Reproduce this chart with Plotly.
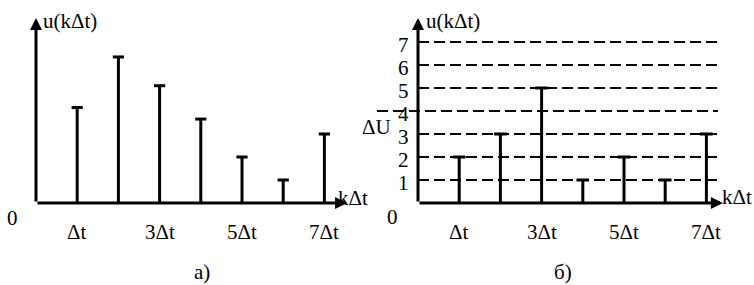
import plotly.graph_objects as go

# ---- data ----
k_steps = [1, 2, 3, 4, 5, 6, 7]
u_analog = [4.15, 6.35, 5.1, 3.65, 2.0, 1.0, 3.0]      # panel a)
u_quant = [2, 3, 5, 1, 2, 1, 3]                        # panel б)
levels = [1, 2, 3, 4, 5, 6, 7]
level_labels = ["1", "2", "3", "4", "5", "6", "7"]
xtick_vals = [1, 3, 5, 7]
xtick_labels = ["Δt", "3Δt", "5Δt", "7Δt"]

W, H = 754, 285
PX = 41.2   # px per x unit
PY = 23.0   # px per y unit
BASE = 203  # baseline pixel row
FONT = dict(family="Liberation Serif", size=21, color="black")

fig = go.Figure()

def stems(xa, ya, vals, capsize):
    xs, ys = [], []
    for k, v in zip(k_steps, vals):
        xs += [k, k, None]
        ys += [0, v, None]
    fig.add_trace(go.Scatter(x=xs, y=ys, mode="lines", xaxis=xa, yaxis=ya,
                             line=dict(color="black", width=3), hoverinfo="skip"))
    fig.add_trace(go.Scatter(x=k_steps, y=vals, mode="markers", xaxis=xa, yaxis=ya,
                             marker=dict(symbol="line-ew", size=capsize,
                                         line=dict(color="black", width=3)),
                             hoverinfo="skip"))

# dashed quantization levels (panel б)
for lv in levels:
    x0 = -0.995 if lv == 4 else 0
    fig.add_trace(go.Scatter(x=[x0, 7.28], y=[lv, lv], mode="lines", xaxis="x2", yaxis="y2",
                             line=dict(color="black", width=2, dash="11px,5px"),
                             hoverinfo="skip"))

stems("x", "y", u_analog, 8)
stems("x2", "y2", u_quant, 9)

ann = []
def arrow(xr, yr, x, y):
    ann.append(dict(x=x, y=y, ax=0, ay=0, xref=xr, yref=yr, axref=xr, ayref=yr,
                    text="", showarrow=True, arrowhead=2, arrowsize=0.8,
                    arrowwidth=3, arrowcolor="black", standoff=0, startstandoff=0))

def txt(xr, yr, x, y, t, xanchor="center", yanchor="middle"):
    ann.append(dict(x=x, y=y, xref=xr, yref=yr, text=t, showarrow=False,
                    xanchor=xanchor, yanchor=yanchor, font=FONT))

# axes with arrows
arrow("x", "y", 7.55, 0)
arrow("x", "y", 0, 8.04)
arrow("x2", "y2", 7.40, 0)
arrow("x2", "y2", 0, 8.04)

# axis titles
txt("x", "y", 0.12, 7.91, "u(kΔt)", xanchor="left")
txt("x2", "y2", 0.146, 7.91, "u(kΔt)", xanchor="left")
txt("x", "y", 7.28, 0.22, "kΔt", xanchor="left")
txt("x2", "y2", 7.33, 0.26, "kΔt", xanchor="left")

# origin labels
txt("x", "y", -0.56, -0.65, "0")
txt("x2", "y2", -0.61, -0.61, "0")

# x tick labels
for xv, lab in zip(xtick_vals, xtick_labels):
    txt("x", "y", xv, -1.26, lab)
    txt("x2", "y2", xv, -1.26, lab)

# y tick labels (panel б)
for lv, lab in zip(levels, level_labels):
    txt("x2", "y2", -0.36, lv - 0.13, lab)

# ΔU marker (paper coords, left of panel б axis)
ann.append(dict(x=376 / W, y=1 - 127 / H, xref="paper", yref="paper", text="ΔU",
                showarrow=False, font=FONT, xanchor="center", yanchor="middle"))

# panel captions
ann.append(dict(x=202 / W, y=1 - 272 / H, xref="paper", yref="paper", text="a)",
                showarrow=False, font=FONT, xanchor="center", yanchor="middle"))
ann.append(dict(x=563 / W, y=1 - 272 / H, xref="paper", yref="paper", text="б)",
                showarrow=False, font=FONT, xanchor="center", yanchor="middle"))

ax_common = dict(visible=False, showgrid=False, zeroline=False, fixedrange=True)
yr = [(BASE - H) / PY, BASE / PY]

fig.update_layout(
    width=W, height=H,
    margin=dict(l=0, r=0, t=0, b=0),
    paper_bgcolor="white", plot_bgcolor="white",
    showlegend=False,
    xaxis=dict(domain=[0, 0.5], range=[-36 / PX, (377 - 36) / PX], **ax_common),
    xaxis2=dict(domain=[0.5, 1], range=[(377 - 418) / PX, (754 - 418) / PX], **ax_common),
    yaxis=dict(domain=[0, 1], range=yr, anchor="x", **ax_common),
    yaxis2=dict(domain=[0, 1], range=yr, anchor="x2", **ax_common),
    annotations=ann,
)

fig.write_html("out.html", config={"displayModeBar": False},
               post_script="document.body.style.margin='0';document.body.style.overflow='hidden';")
